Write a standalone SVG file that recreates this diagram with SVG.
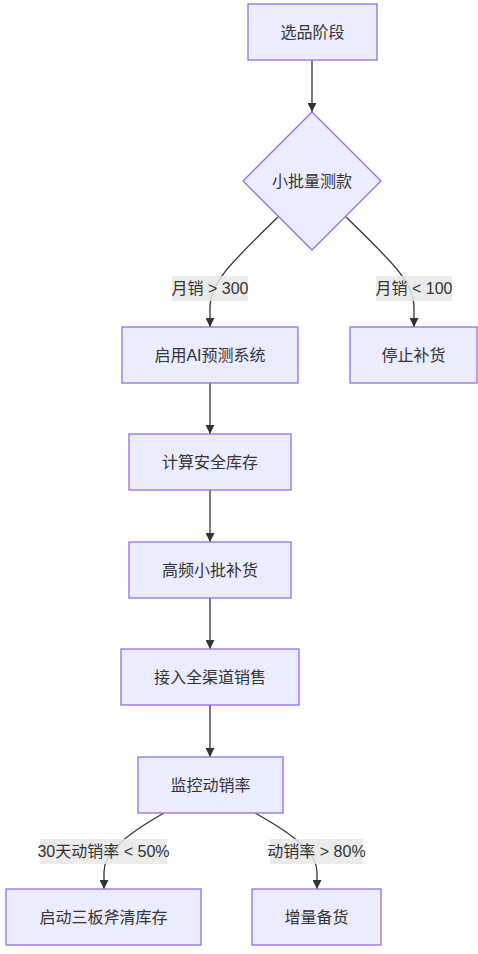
<svg xmlns="http://www.w3.org/2000/svg" width="478" height="954" viewBox="0 0 478 954">
<style>
.node rect, .node polygon { fill: #ECECFF; stroke: #9370DB; stroke-width: 1.3; }
.node text, .elabel text { font-family: "Liberation Sans", "Noto Sans CJK SC", sans-serif; font-size: 16px; fill: #333333; text-anchor: middle; dominant-baseline: central; }
.edges path { fill: none; stroke: #333333; stroke-width: 1.3; }
.elabel rect { fill: #E8E8E8; fill-opacity: 0.85; }
</style>
<defs>
<marker id="arr" viewBox="0 0 10 10" markerWidth="9" markerHeight="9" refX="10" refY="5" orient="auto" markerUnits="userSpaceOnUse">
<path d="M0,0 L10,5 L0,10 z" fill="#333333"/>
</marker>
</defs>
<rect width="478" height="954" fill="#FFFFFF"/>
<g id="edges" class="edges">
<path d="M312,60 L312,112" marker-end="url(#arr)"/>
<path d="M278,217 C232,262 210,282 210,308 L210,327" marker-end="url(#arr)"/>
<path d="M346,217 C392,262 414,282 414,308 L414,327" marker-end="url(#arr)"/>
<path d="M210,383 L210,434" marker-end="url(#arr)"/>
<path d="M210,490 L210,542" marker-end="url(#arr)"/>
<path d="M210,598 L210,649" marker-end="url(#arr)"/>
<path d="M210,705 L210,757" marker-end="url(#arr)"/>
<path d="M164,813 C120,838 104,855 104,872 L104,889" marker-end="url(#arr)"/>
<path d="M255,813 C300,838 317,855 317,872 L317,889" marker-end="url(#arr)"/>
</g>
<g id="label-gt300" class="elabel"><rect x="172" y="276" width="76" height="25"/><text x="210" y="288.5">月销 &gt; 300</text></g>
<g id="label-lt100" class="elabel"><rect x="376" y="276" width="76" height="25"/><text x="414" y="288.5">月销 &lt; 100</text></g>
<g id="label-lt50" class="elabel"><rect x="40" y="839" width="127" height="25"/><text x="103.5" y="851.5">30天动销率 &lt; 50%</text></g>
<g id="label-gt80" class="elabel"><rect x="270" y="839" width="93" height="25"/><text x="316.5" y="851.5">动销率 &gt; 80%</text></g>
<g id="n1" class="node"><rect x="248" y="4" width="129" height="56"/><text x="312.5" y="32">选品阶段</text></g>
<g id="n2" class="node"><polygon points="312,112 381,181 312,250 243,181"/><text x="312" y="181">小批量测款</text></g>
<g id="n3" class="node"><rect x="122" y="327" width="176" height="56"/><text x="210" y="355">启用AI预测系统</text></g>
<g id="n4" class="node"><rect x="350" y="327" width="127" height="56"/><text x="413.5" y="355">停止补货</text></g>
<g id="n5" class="node"><rect x="129" y="434" width="162" height="56"/><text x="210" y="462">计算安全库存</text></g>
<g id="n6" class="node"><rect x="129" y="542" width="162" height="56"/><text x="210" y="570">高频小批补货</text></g>
<g id="n7" class="node"><rect x="121" y="649" width="178" height="56"/><text x="210" y="677">接入全渠道销售</text></g>
<g id="n8" class="node"><rect x="138" y="757" width="145" height="56"/><text x="210.5" y="785">监控动销率</text></g>
<g id="n9" class="node"><rect x="6" y="889" width="195" height="56"/><text x="103.5" y="917">启动三板斧清库存</text></g>
<g id="n10" class="node"><rect x="252" y="889" width="129" height="56"/><text x="316.5" y="917">增量备货</text></g>
</svg>
